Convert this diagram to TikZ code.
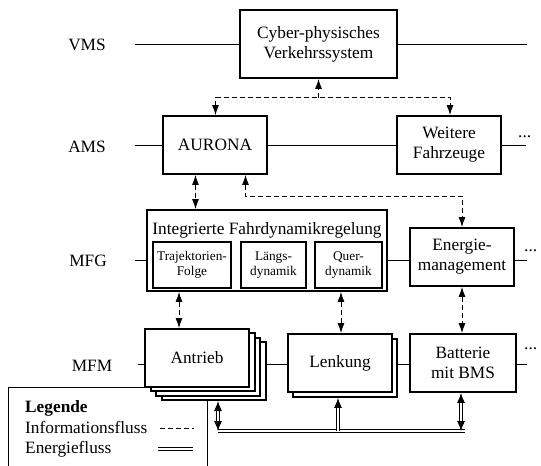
\documentclass[tikz,border=0pt]{standalone}
\usepackage{fontspec}
\setmainfont{Liberation Serif}
\usetikzlibrary{arrows.meta,calc}
\tikzset{etip/.tip={Latex[length=10pt,width=8pt]}}
\begin{document}
\begin{tikzpicture}[x=1pt,y=-1pt,
  every node/.style={font=\fontsize{17.3}{20}\selectfont, inner sep=0pt},
  box/.style={draw, line width=1.9pt, fill=white, align=center},
  smalltext/.style={font=\fontsize{13.3}{15}\selectfont},
  thinline/.style={line width=0.8pt},
  >={Latex[length=10pt,width=7pt]},
  info/.style={line width=0.9pt, dash pattern=on 5pt off 3pt},
  energy/.style={draw=black, double=white, double distance=1.6pt, line width=0.9pt}
]
\useasboundingbox (0,0) rectangle (541,466);

% level labels
\node (vms) at (87,45) {VMS};
\node (ams) at (87,147) {AMS};
\node (mfg) at (88,261) {MFG};
\node (mfm) at (92,366) {MFM};

\coordinate (vmsL) at (134.5,44.5); \coordinate (vmsR) at (527,44.5);
\coordinate (amsL) at (134.5,145.5);  \coordinate (amsR) at (526,145.5);
\coordinate (mfgL) at (134.5,260.5); \coordinate (mfgR) at (527,260.5);
\coordinate (mfmL) at (137.5,364.5);  \coordinate (mfmR) at (527,364.5);

% boxes
\node[box, minimum width=157, minimum height=68] (cps) at (318.5,44) {Cyber-physisches\\Verkehrssystem};
\node[box, minimum width=104, minimum height=58] (aurona) at (215,145) {AURONA};
\node[box, minimum width=104, minimum height=58] (weitere) at (449,145) {Weitere\\Fahrzeuge};
\node[box, minimum width=240, minimum height=81] (ifr) at (267,250.5) {};
\node (ifrtitle) at (267,230.5) {Integrierte Fahrdynamikregelung};
\node[box, smalltext, minimum width=78, minimum height=46] (traj) at (192,265) {Trajektorien-\\Folge};
\node[box, smalltext, minimum width=65, minimum height=46] (laengs) at (273.5,265) {Längs-\\dynamik};
\node[box, smalltext, minimum width=67, minimum height=46] (quer) at (348.5,265) {Quer-\\dynamik};
\node[box, minimum width=104, minimum height=58] (energ) at (462,257) {Energie-\\management};

% legend box (behind Antrieb stack)
\coordinate (legBL) at (8.5,475); \coordinate (legTL) at (8.5,387.5);
\coordinate (legTR) at (207.5,387.5); \coordinate (legBR) at (207.5,475);
\draw[thinline, fill=white] (legBL) -- (legTL) -- (legTR) -- (legBR);
\node[anchor=base west, font=\fontsize{17.3}{20}\selectfont\bfseries] (legtitle) at (25,412) {Legende};
\node[anchor=base west] (leginfo) at (25,433) {Informationsfluss};
\node[anchor=base west] (legenergy) at (25,453) {Energiefluss};
\coordinate (liA) at (160,428.5); \coordinate (liB) at (194,428.5);
\coordinate (leA) at (158,449); \coordinate (leB) at (193,449);
\draw[info] (liA) -- (liB);
\draw[energy] (leA) -- (leB);

% MFM boxes
\foreach \k/\dx/\dy in {3/17/13, 2/11/9, 1/6/4}
  \node[box, minimum width=104, minimum height=58] (antrieb\k) at ($(197,358)+(\dx,\dy)$) {};
\node[box, minimum width=104, minimum height=58] (antrieb) at (197,358) {Antrieb};
\node[box, minimum width=104, minimum height=58] (lenkung1) at (345,368) {};
\node[box, minimum width=104, minimum height=58] (lenkung) at (340,363) {Lenkung};
\node[box, minimum width=106, minimum height=58] (batterie) at (463,363) {Batterie\\mit BMS};

% dots
\node[anchor=base west] (amsdots) at (518,137) {...};
\node[anchor=base west] (mfgdots) at (524,251) {...};
\node[anchor=base west] (mfmdots) at (524,349) {...};

% level lines
\draw[thinline] (vmsL) -- (cps.west |- vmsL);
\draw[thinline] (cps.east |- vmsR) -- (vmsR);
\draw[thinline] (amsL) -- (aurona.west |- amsL);
\draw[thinline] (aurona.east |- amsL) -- (weitere.west |- amsL);
\draw[thinline] (weitere.east |- amsR) -- (amsR);
\draw[thinline] (mfgL) -- (ifr.west |- mfgL);
\draw[thinline] (ifr.east |- mfgL) -- (energ.west |- mfgL);
\draw[thinline] (energ.east |- mfgR) -- (mfgR);
\draw[thinline] (mfmL) -- (antrieb.west |- mfmL);
\draw[thinline] (antrieb3.east |- mfmL) -- (lenkung.west |- mfmL);
\draw[thinline] (lenkung1.east |- mfmL) -- (batterie.west |- mfmL);
\draw[thinline] (batterie.east |- mfmR) -- (mfmR);

% information flow
\coordinate (cpsj) at (318.5,97.5);
\draw[info,->] (cpsj) -- (cps.south);
\coordinate (auT) at ($(aurona.north)+(0.5,0)$);
\coordinate (weT) at ($(weitere.north)+(1,0)$);
\draw[info,<->] (auT) -- (auT |- cpsj) -- (weT |- cpsj) -- (weT);
\coordinate (a1) at ($(aurona.south)+(-19.5,0)$);
\draw[info,<->] (a1) -- (a1 |- ifr.north);
\coordinate (a2) at ($(aurona.south)+(30.5,0)$);
\draw[info,<->] (a2) -- ++(0,21) -| (energ.north);
\coordinate (tA) at ($(antrieb.north)+(-18,0)$);
\draw[info,<->] (tA |- ifr.south) -- (tA);
\coordinate (qL) at ($(lenkung.north)+(1,0)$);
\draw[info,<->] (qL |- ifr.south) -- (qL);
\draw[info,<->] (energ.south) -- (energ.south |- batterie.north);

% energy flow
\coordinate (busL) at (218,431);
\coordinate (busR) at (465,431);
\coordinate (antE) at (218,401);
\coordinate (lenE) at ($(lenkung1.south)+(-7,0)$);
\coordinate (batE) at ($(batterie.south)+(-2,0)$);
\draw[energy] (busL) -- (busR);
\draw[energy,etip-etip] (antE) -- (antE |- busL);
\draw[energy,-etip] (lenE |- busL) -- (lenE);
\draw[energy,etip-etip] (batE) -- (batE |- busL);
\end{tikzpicture}
\end{document}
